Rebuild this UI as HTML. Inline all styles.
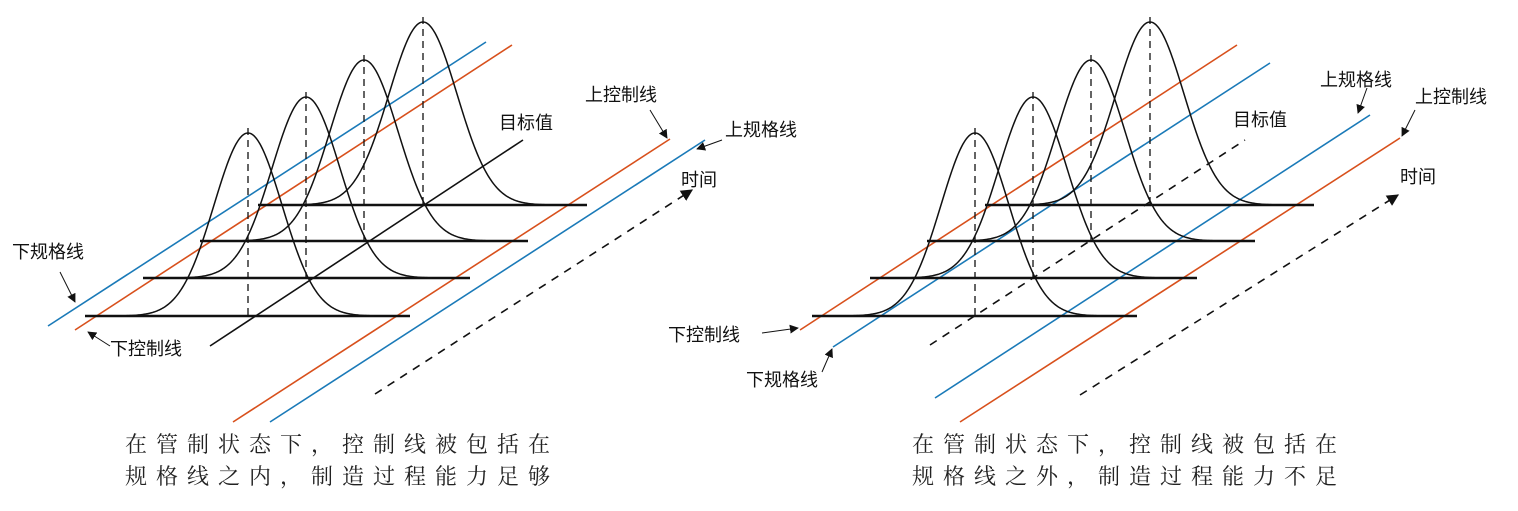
<!DOCTYPE html>
<html><head><meta charset="utf-8">
<style>
html,body{margin:0;padding:0;background:#fff;}
svg{display:block;}
.lb{font-family:"Liberation Sans","Noto Sans CJK SC",sans-serif;font-size:18px;fill:#111;}
.cap{font-family:"Liberation Serif","Noto Serif CJK SC",serif;font-size:22px;fill:#222;letter-spacing:9px;}
</style></head>
<body>
<svg id="s" width="1518" height="511" viewBox="0 0 1518 511" xmlns="http://www.w3.org/2000/svg">
<defs>
<marker id="ah" viewBox="0 0 10 10" refX="9" refY="5" markerWidth="9" markerHeight="9" orient="auto" markerUnits="userSpaceOnUse">
<path d="M0,0 L10,5 L0,10 z" fill="#111"/></marker>
<marker id="ah2" viewBox="0 0 10 10" refX="9" refY="5" markerWidth="12" markerHeight="12" orient="auto" markerUnits="userSpaceOnUse">
<path d="M0,0 L10,5 L0,10 z" fill="#111"/></marker>
</defs>
<g id="g" fill="none" stroke-width="1.6">
<line x1="48" y1="326" x2="486" y2="42" stroke="#1a7ab8"/>
<line x1="75" y1="330" x2="512" y2="45" stroke="#d8501c"/>
<line x1="233" y1="422" x2="670" y2="139" stroke="#d8501c"/>
<line x1="270" y1="422" x2="705" y2="140" stroke="#1a7ab8"/>
<line x1="210" y1="346" x2="523" y2="140" stroke="#111"/>
<line x1="375" y1="394" x2="692" y2="190" stroke="#111" stroke-dasharray="8,7" marker-end="url(#ah2)"/>
<line x1="800" y1="330" x2="1237" y2="45" stroke="#d8501c"/>
<line x1="833" y1="347" x2="1270" y2="63" stroke="#1a7ab8"/>
<line x1="935" y1="398" x2="1370" y2="115" stroke="#1a7ab8"/>
<line x1="960" y1="422" x2="1400" y2="138" stroke="#d8501c"/>
<line x1="930" y1="345" x2="1245" y2="140" stroke="#111" stroke-dasharray="8,7"/>
<line x1="1080" y1="395" x2="1398" y2="195" stroke="#111" stroke-dasharray="8,7" marker-end="url(#ah2)"/>
<line x1="650" y1="110" x2="667" y2="138" stroke="#111" stroke-width="1" marker-end="url(#ah)"/>
<line x1="722" y1="140" x2="697" y2="149" stroke="#111" stroke-width="1" marker-end="url(#ah)"/>
<line x1="60" y1="272" x2="75" y2="302" stroke="#111" stroke-width="1" marker-end="url(#ah)"/>
<line x1="110" y1="346" x2="88" y2="332" stroke="#111" stroke-width="1" marker-end="url(#ah)"/>
<line x1="1367" y1="88" x2="1358" y2="113" stroke="#111" stroke-width="1" marker-end="url(#ah)"/>
<line x1="1415" y1="110" x2="1402" y2="136" stroke="#111" stroke-width="1" marker-end="url(#ah)"/>
<line x1="762" y1="333" x2="798" y2="328" stroke="#111" stroke-width="1" marker-end="url(#ah)"/>
<line x1="822" y1="372" x2="832" y2="349" stroke="#111" stroke-width="1" marker-end="url(#ah)"/>
</g>
<text class="lb" x="585" y="101">上控制线</text>
<text class="lb" x="499" y="129">目标值</text>
<text class="lb" x="725" y="136">上规格线</text>
<text class="lb" x="681" y="186">时间</text>
<text class="lb" x="12" y="258">下规格线</text>
<text class="lb" x="110" y="355">下控制线</text>
<text class="lb" x="1233" y="126">目标值</text>
<text class="lb" x="1320" y="86">上规格线</text>
<text class="lb" x="1415" y="103">上控制线</text>
<text class="lb" x="1400" y="183">时间</text>
<text class="lb" x="668" y="341">下控制线</text>
<text class="lb" x="746" y="386">下规格线</text>
<text class="cap" x="125" y="452">在管制状态下，控制线被包括在</text>
<text class="cap" x="125" y="484">规格线之内，制造过程能力足够</text>
<text class="cap" x="912" y="452">在管制状态下，控制线被包括在</text>
<text class="cap" x="912" y="484">规格线之外，制造过程能力不足</text>
</svg>
<script>
(function(){
var ns="http://www.w3.org/2000/svg",s=document.getElementById('s');
var B=[[316,85,410,248,133],[278,143,470,306,97],[241,200,528,364,60],[205,258,587,423,22]];
[0,727].forEach(function(off){
 B.slice().reverse().forEach(function(b){
  var y=b[0],x1=b[1]+off,x2=b[2]+off,c=b[3]+off,pk=b[4];
  var l=document.createElementNS(ns,'line');
  l.setAttribute('x1',x1);l.setAttribute('x2',x2);l.setAttribute('y1',y);l.setAttribute('y2',y);
  l.setAttribute('stroke','#111');l.setAttribute('stroke-width','2.4');s.appendChild(l);
  var d=document.createElementNS(ns,'line');
  d.setAttribute('x1',c);d.setAttribute('x2',c);d.setAttribute('y1',pk-5);d.setAttribute('y2',y);
  d.setAttribute('stroke','#111');d.setAttribute('stroke-width','1.3');d.setAttribute('stroke-dasharray','7,5');s.appendChild(d);
  var h=y-pk,sg=34,p='';
  for(var x=x1;x<=x2;x+=1){var t=(x-c)/sg;var yy=y-h*Math.exp(-t*t/2);p+=(p?'L':'M')+x+','+yy.toFixed(2);}
  var pa=document.createElementNS(ns,'path');pa.setAttribute('d',p);pa.setAttribute('fill','none');
  pa.setAttribute('stroke','#111');pa.setAttribute('stroke-width','1.5');s.appendChild(pa);
 });
});
})();
</script>
</body></html>
